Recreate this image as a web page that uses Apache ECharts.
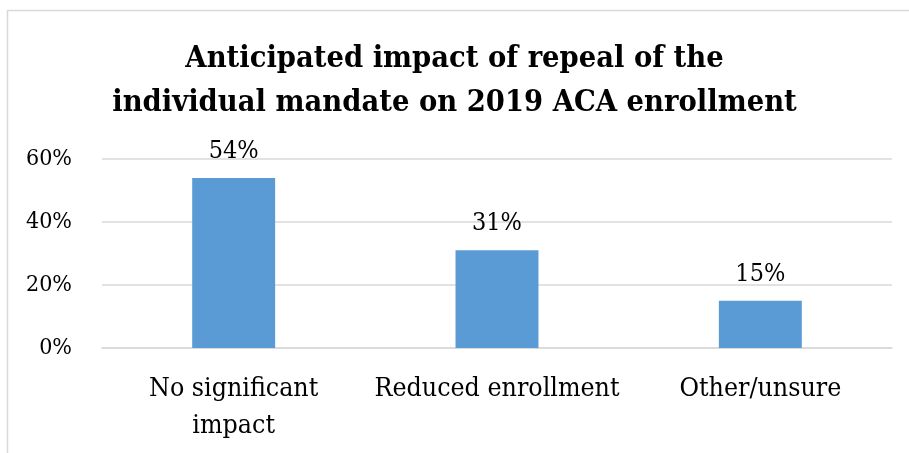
<!DOCTYPE html>
<html>
<head>
<meta charset="utf-8">
<script src="https://cdn.jsdelivr.net/npm/echarts@6/dist/echarts.min.js"></script>
<style>
  html, body { margin: 0; padding: 0; background: #fff; }
  #chart { width: 909px; height: 453px; }
</style>
</head>
<body>
<div id="chart"></div>
<script>
// Survey responses: anticipated impact on 2019 enrollment
const categories = ['No significant\nimpact', 'Reduced enrollment', 'Other/unsure'];
const shares = [54, 31, 15];
const yTicks = [0, 20, 40, 60];

const FONT = '"DejaVu Serif Condensed", "DejaVu Serif", serif';

const chart = echarts.init(document.getElementById('chart'), null, { renderer: 'canvas' });

chart.setOption({
  animation: false,
  backgroundColor: '#ffffff',
  title: {
    text: 'Anticipated impact of repeal of the\nindividual mandate on 2019 ACA enrollment',
    left: 'center',
    top: 32,
    textStyle: {
      fontFamily: FONT,
      fontWeight: 'bold',
      fontSize: 30.5,
      lineHeight: 44,
      color: '#000000'
    }
  },
  graphic: [{
    type: 'rect',
    shape: { x: 7.5, y: 10.5, width: 930, height: 470 },
    style: { fill: 'none', stroke: '#d9d9d9', lineWidth: 1.5 },
    silent: true
  }],
  grid: { left: 102, right: 17, top: 159, bottom: 105, containLabel: false },
  xAxis: {
    type: 'category',
    data: categories,
    axisLine: { show: true, lineStyle: { color: '#d9d9d9', width: 1.5 } },
    axisTick: { show: false },
    axisLabel: {
      fontFamily: FONT,
      fontSize: 26.5,
      lineHeight: 37,
      color: '#000000',
      margin: 23,
      interval: 0
    }
  },
  yAxis: {
    type: 'value',
    min: yTicks[0],
    max: yTicks[yTicks.length - 1],
    interval: 20,
    axisLine: { show: false },
    axisTick: { show: false },
    splitLine: { lineStyle: { color: '#d9d9d9', width: 1.5 } },
    axisLabel: {
      fontFamily: FONT,
      fontSize: 23,
      color: '#000000',
      margin: 30,
      formatter: v => v + '%'
    }
  },
  series: [{
    type: 'bar',
    data: shares,
    barWidth: '31.5%',
    itemStyle: { color: '#5b9bd5' },
    label: {
      show: true,
      position: 'top',
      distance: 14,
      fontFamily: FONT,
      fontSize: 25,
      color: '#000000',
      formatter: p => p.value + '%'
    }
  }]
});
</script>
</body>
</html>
